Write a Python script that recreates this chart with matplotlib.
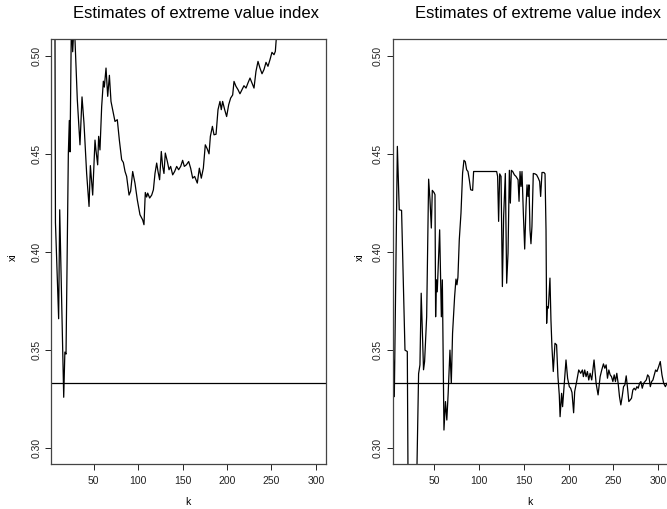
import matplotlib
matplotlib.use("Agg")
import matplotlib.pyplot as plt

plt.rcParams['font.family'] = ['Liberation Sans', 'DejaVu Sans']

# valeurs (k, estimation de xi)
k_gauche = [5, 6, 7, 10.6, 11.8, 16.3, 17.6, 18.9, 21.5, 22.6, 23.4, 25, 26.4, 27.8, 29,
            31.6, 34.6, 36.9, 39.1, 42.1, 44.8, 46.3, 48.9, 51.5, 52.6, 54.5, 55.6, 57.1,
            59.0, 60.9, 62, 63.9, 65.8, 67.7, 69.5, 72.1, 74, 76.6, 78.9, 81.5, 83.4, 85.3,
            87.1, 89.8, 91.6, 93.9, 96.5, 99.1, 102.1, 105.1, 106.6, 108.1, 109.6, 110.8,
            113, 115.3, 117.2, 119, 120.9, 122.4, 124.2, 126.1, 127.6, 129.1, 130.6, 132.9,
            134.8, 136.6, 138.9, 141.1, 143.4, 145.6, 147.9, 150.1, 152, 154.3, 156.9,
            159.1, 161.4, 163.6, 166.6, 168.9, 171.1, 173.4, 175.6, 177.9, 179.8, 181.3,
            183.6, 185.4, 187.7, 189.9, 192.1, 193.6, 195.1, 197.4, 199.6, 201.9, 204.1,
            206.4, 207.9, 210.1, 212.4, 214.6, 216.9, 219.1, 221.4, 223.6, 225.9, 228.1,
            230.4, 232.6, 234.9, 237.1, 239.4, 241.6, 243.9, 246.1, 248.4, 250.6, 252.9,
            254.4, 256, 258]
xi_gauche = [0.70, 0.60, 0.415, 0.366, 0.4215, 0.326, 0.349, 0.348, 0.450, 0.467, 0.451,
             0.52, 0.502, 0.515, 0.508, 0.4776, 0.4546, 0.479, 0.4657, 0.440, 0.4232,
             0.444, 0.429, 0.457, 0.4518, 0.4444, 0.4589, 0.452, 0.474, 0.487, 0.484,
             0.4937, 0.4793, 0.490, 0.4767, 0.4708, 0.4665, 0.4674, 0.457, 0.447, 0.4456,
             0.441, 0.4385, 0.429, 0.431, 0.441, 0.435, 0.4266, 0.419, 0.4164, 0.4139,
             0.4303, 0.428, 0.430, 0.4275, 0.429, 0.4317, 0.440, 0.4453, 0.441, 0.4368,
             0.4512, 0.4436, 0.440, 0.4504, 0.4461, 0.4419, 0.4436, 0.4393, 0.441, 0.4436,
             0.4419, 0.4436, 0.4467, 0.4436, 0.4444, 0.4461, 0.4427, 0.4376, 0.4385,
             0.4351, 0.4427, 0.4376, 0.4427, 0.4546, 0.4524, 0.450, 0.4589, 0.464, 0.4597,
             0.460, 0.4725, 0.4767, 0.4725, 0.4767, 0.4725, 0.469, 0.475, 0.4784, 0.480,
             0.4869, 0.4844, 0.4827, 0.4806, 0.4827, 0.4847, 0.4835, 0.4861, 0.4886,
             0.4861, 0.4835, 0.492, 0.4971, 0.4937, 0.4908, 0.4929, 0.4966, 0.4946, 0.498,
             0.5017, 0.5005, 0.5022, 0.512, 0.53]

k_droite = [3.5, 5.4, 8.8, 10.9, 13.5, 17.3, 19.9, 21, 29.5, 32.5, 34, 35.4, 38, 39.2,
            41.5, 43.7, 45.2, 46.7, 47.8, 49.7, 50.8, 51.5, 52.3, 53.3, 56, 57.9, 59,
            60.8, 62.5, 64, 65.5, 67.5, 69, 70.4, 72.7, 74.2, 75.3, 76.4,
            77.9, 79.8, 81.6, 83.1, 84.6, 86.1, 87.6, 89.1, 90.6, 92.8, 93.9, 119.6, 120.7,
            121.8, 123, 124.5, 126, 127.4, 129.3, 130.8, 132.3, 133.8, 134.9, 136, 137.5,
            139.4, 141.2, 143.5, 144.6, 145.7, 146.8, 147.9, 149.4, 150.9, 152.4, 153.5,
            154.6, 155.7, 156.8, 157.9, 159, 160.5, 162.4, 164.2, 166.1, 167.6, 168.7,
            170.2, 172.4, 173.6, 174.7, 175.4, 176.1, 177.3, 179.1, 180.2, 181.3, 182.8,
            184.7, 186.5, 188, 189.5, 190.4, 192.1, 193.2, 195.1, 197, 198.8, 200.7, 202.2,
            203.7, 205.5, 206.7, 208.9, 211.2, 213.4, 215.3, 216.4, 217.9, 219.4, 220.9,
            222.4, 223.9, 225.7, 228.3, 230.6, 232.8, 235.1, 236.9, 238.8, 240.3, 241.8,
            243.3, 244.8, 246.3, 247.8, 249.3, 250.8, 252.2, 253.7, 255.2, 256.7, 258.2,
            259.7, 261.2, 262.7, 264.2, 265.7, 267.1, 268.6, 270.1, 271.6, 273.1, 274.6,
            276.1, 277.6, 279.1, 280.6, 282.1, 283.6, 285.1, 286.6, 288.1, 289.6, 291.1,
            292.6, 294, 295.5, 297, 298.5, 300.4, 302.2, 304.1, 306, 307.9, 309.7]
xi_droite = [0.362, 0.3263, 0.4538, 0.4215, 0.4212, 0.350, 0.3493, 0.26, 0.26, 0.338, 0.3425,
             0.379, 0.340, 0.3442, 0.367, 0.4371, 0.4266, 0.4122, 0.4314, 0.4303, 0.4292,
             0.367, 0.3858, 0.3797, 0.4113, 0.367, 0.3858, 0.3093, 0.3238, 0.3144, 0.328,
             0.350, 0.3331, 0.3586, 0.3773, 0.3862, 0.3833, 0.3872,
             0.4062, 0.4198, 0.4402, 0.4467, 0.446, 0.4419, 0.441, 0.4368, 0.4317, 0.4314,
             0.441, 0.441, 0.4385, 0.4156, 0.4398, 0.4385, 0.3824, 0.4181, 0.440, 0.3841,
             0.3994, 0.4416, 0.4249, 0.4416, 0.441, 0.4393, 0.4385, 0.4368, 0.4258, 0.441,
             0.4334, 0.441, 0.4198, 0.4015, 0.4232, 0.4342, 0.4283, 0.4342, 0.4113, 0.4042,
             0.413, 0.440, 0.4398, 0.4393, 0.4376, 0.4359, 0.4283, 0.4405, 0.4405, 0.4398,
             0.4113, 0.3637, 0.3722, 0.3714, 0.3867, 0.3654, 0.3518, 0.3391, 0.3535, 0.3527,
             0.3365, 0.3272, 0.3161, 0.328, 0.3212, 0.3331, 0.345, 0.3357, 0.3314, 0.3306,
             0.3284, 0.3181, 0.3289, 0.334, 0.3399, 0.3382, 0.3399, 0.3365, 0.3399, 0.3365,
             0.3391, 0.3348, 0.3382, 0.3348, 0.345, 0.3331, 0.3272, 0.3365, 0.3399, 0.343,
             0.3408, 0.3425, 0.3357, 0.3399, 0.3374, 0.3365, 0.334, 0.3374, 0.334, 0.3382,
             0.3331, 0.3263, 0.3221, 0.3263, 0.3314, 0.3323, 0.3369, 0.3306, 0.3238, 0.3246,
             0.3255, 0.3297, 0.3306, 0.3297, 0.3314, 0.3306, 0.3331, 0.334, 0.3306, 0.3331,
             0.334, 0.3348, 0.3374, 0.3365, 0.3314, 0.334, 0.3348, 0.3374, 0.3399, 0.3391,
             0.3416, 0.3442, 0.3374, 0.3331, 0.3314, 0.3331]

niveau_ref = 1 / 3
ticks_x = [50, 100, 150, 200, 250, 300]
ticks_y = [0.30, 0.35, 0.40, 0.45, 0.50]
titre = 'Estimates of extreme value index'

L, H = 667, 509
fig = plt.figure(figsize=(L / 100, H / 100), dpi=100)


def tracer_panneau(pos, k, xi, xlim):
    ax = fig.add_axes(pos)
    ax.plot(k, xi, color='black', linewidth=0.9)
    ax.axhline(niveau_ref, color='black', linewidth=0.9)
    ax.set_xlim(*xlim)
    ax.set_ylim(0.292, 0.5085)
    ax.set_xticks(ticks_x)
    ax.set_yticks(ticks_y)
    ax.set_yticklabels(['%.2f' % v for v in ticks_y], rotation=90, va='center')
    ax.tick_params(axis='x', length=4, width=0.7, pad=5, labelsize=7.5, colors='#222222')
    ax.tick_params(axis='y', length=4, width=0.7, pad=3, labelsize=7.5, colors='#222222')
    for s in ax.spines.values():
        s.set_linewidth(0.9)
        s.set_color('#444444')
    return ax


tracer_panneau([51 / L, 1 - 464 / H, 275 / L, 425 / H], k_gauche, xi_gauche, (2.0, 311.4))
tracer_panneau([392.7 / L, 1 - 464 / H, 275 / L, 425 / H], k_droite, xi_droite, (3.6, 310.5))

# titres et noms d'axes
for cx in (196, 538):
    fig.text(cx / L, 1 - 14 / H, titre, ha='center', va='center', fontsize=12)
for cx in (188, 530):
    fig.text(cx / L, 1 - 502 / H, 'k', ha='center', va='center', fontsize=7.5)
for cx in (13, 360):
    fig.text(cx / L, 1 - 257 / H, 'xi', ha='center', va='center', fontsize=7.5, rotation=90)

fig.savefig('out.png', dpi=100)
